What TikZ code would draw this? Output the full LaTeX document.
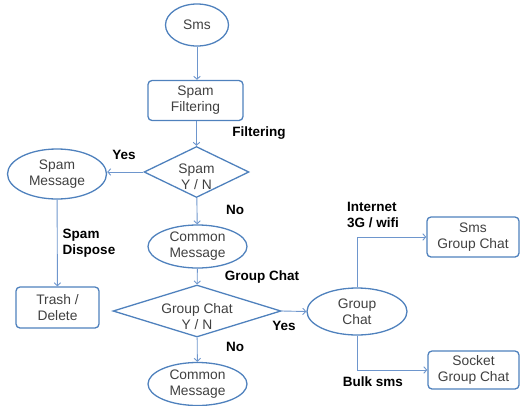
\documentclass[tikz,border=0pt]{standalone}
\usepackage{fontspec}
\setmainfont{Liberation Sans}
\usetikzlibrary{shapes.geometric,arrows.meta}
\definecolor{shapeblue}{RGB}{79,129,189}
\definecolor{lineblue}{RGB}{110,150,205}
\definecolor{txtgray}{RGB}{64,64,64}
\tikzset{
  x=1pt,y=-1pt,
  every node/.style={font=\fontsize{13.8}{16}\selectfont, text=txtgray, align=center, inner sep=0pt},
  ell/.style={ellipse, draw=shapeblue, line width=1.3pt},
  rbox/.style={rectangle, rounded corners=4pt, draw=shapeblue, line width=1.3pt},
  dia/.style={diamond, draw=shapeblue, line width=1.3pt},
  conn/.style={draw=lineblue, line width=0.9pt, -{Straight Barb[length=3pt,width=6.5pt]}},
  lbl/.style={font=\fontsize{13.5}{16}\bfseries\selectfont, text=black, align=left},
}
\begin{document}
\begin{tikzpicture}
\useasboundingbox (0,0) rectangle (520,405);
% nodes
\node[ell, minimum width=63, minimum height=42] (sms) at (197,25) {Sms};
\node[rbox, minimum width=95, minimum height=40] (filter) at (195.5,100.5) {Spam\\Filtering};
\node[dia, minimum width=105, minimum height=51, aspect=2.06,
      label={[yshift=-5pt]center:{Spam\\Y / N}}] (spamyn) at (196.5,172) {};
\node[ell, minimum width=99, minimum height=50] (spammsg) at (57,174) {Spam\\Message};
\node[rbox, minimum width=83, minimum height=41] (trash) at (57.5,307.5) {Trash /\\Delete};
\node[ell, minimum width=99, minimum height=43] (common1) at (197.5,246.5) {Common\\Message};
\node[dia, minimum width=168, minimum height=52, aspect=3.2,
      label={[yshift=-6pt]center:{Group Chat\\Y / N}}] (gcyn) at (197,311) {};
\node[ell, minimum width=99, minimum height=43] (common2) at (197.5,384) {Common\\Message};
\node[ell, minimum width=100, minimum height=47] (gchat) at (357,311.5) {Group\\Chat};
\node[rbox, minimum width=92, minimum height=40] (smsgc) at (473,237) {Sms\\Group Chat};
\node[rbox, minimum width=91, minimum height=38] (sockgc) at (473.5,370) {Socket\\Group Chat};
% connectors
\draw[conn] (sms) -- (filter.north -| sms);
\draw[conn] (filter.south -| spamyn) -- (spamyn);
\draw[conn] (spamyn.west) -- (spamyn.west -| spammsg.east);
\draw[conn] (spammsg) -- (trash);
\draw[conn] (spamyn) -- (common1);
\draw[conn] (common1) -- (gcyn);
\draw[conn] (gcyn) -- (common2);
\draw[conn] (gcyn.east) -- (gchat.west);
\draw[conn] (gchat.north) |- (smsgc.west);
\draw[conn] (gchat.south) |- (sockgc.west);
% labels
\node[lbl] (l1) at (259,133) {Filtering};
\node[lbl] (l2) at (124,155) {Yes};
\node[lbl] (l3) at (235,210) {No};
\node[lbl] (l4) at (89,243.5) {Spam\\Dispose};
\node[lbl] (l5) at (262,277) {Group Chat};
\node[lbl] (l6) at (284,326) {Yes};
\node[lbl] (l7) at (235,347) {No};
\node[lbl] (l8) at (373,215) {Internet\\3G / wifi};
\node[lbl] (l9) at (373,382) {Bulk sms};
\end{tikzpicture}
\end{document}
